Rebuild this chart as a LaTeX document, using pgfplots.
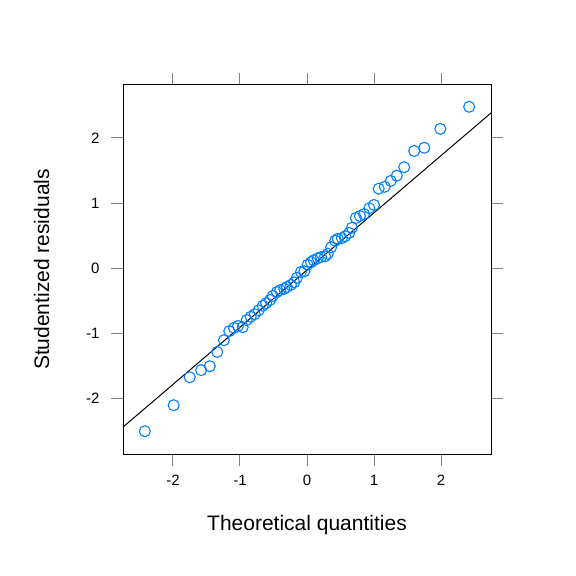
\documentclass[border=0pt]{standalone}
\usepackage{pgfplots}
\pgfplotsset{compat=1.18}
\usepackage{fontspec}
\setmainfont{Liberation Sans}
\definecolor{lat}{HTML}{0080FF}
\begin{document}
\begin{tikzpicture}
\path[use as bounding box] (-123bp,-122bp) rectangle (453bp,454bp);
\begin{axis}[at={(0,0)},anchor=south west,scale only axis,width=368bp,height=369bp,
xmin=-2.746,xmax=2.746,ymin=-2.86,ymax=2.815,
xtick={-2,-1,0,1,2},ytick={-2,-1,0,1,2},
tick align=outside,major tick length=12bp,
xticklabel pos=lower, yticklabel pos=left,
xtick pos=both, ytick pos=both,
/pgf/number format/assume math mode=true,
ticklabel style={font=\fontsize{15bp}{18bp}\selectfont},
xticklabel style={yshift=-6bp},
yticklabel style={xshift=-8bp},
major tick style={line width=1pt},
xlabel={Theoretical quantities},ylabel={Studentized residuals},
label style={font=\fontsize{21bp}{25bp}\selectfont},
xlabel style={yshift=-22bp},ylabel style={yshift=30bp},
axis line style={line width=1pt},
]
\addplot[black,line width=1pt] coordinates {(-2.746,-2.446) (2.746,2.385)};
\addplot[only marks,mark=o,mark size=5.5bp,color=lat,line width=1.1pt] coordinates {
(-2.42,-2.51)(-1.99,-2.11)(-1.75,-1.68)(-1.58,-1.57)(-1.45,-1.51)(-1.34,-1.29)(-1.24,-1.11)(-1.16,-0.97)(-1.09,-0.92)(-1.03,-0.89)(-0.96,-0.91)(-0.90,-0.80)(-0.84,-0.75)(-0.78,-0.71)(-0.72,-0.65)(-0.66,-0.58)(-0.61,-0.54)(-0.55,-0.49)(-0.51,-0.43)(-0.45,-0.37)(-0.40,-0.34)(-0.34,-0.32)(-0.30,-0.29)(-0.24,-0.26)(-0.19,-0.22)(-0.15,-0.15)(-0.09,-0.06)(-0.04,-0.05)(0.01,0.05)(0.06,0.09)(0.10,0.12)(0.16,0.15)(0.21,0.17)(0.27,0.18)(0.31,0.22)(0.36,0.32)(0.42,0.42)(0.46,0.45)(0.52,0.46)(0.57,0.49)(0.63,0.54)(0.67,0.62)(0.73,0.77)(0.79,0.80)(0.85,0.83)(0.93,0.92)(1.00,0.97)(1.07,1.22)(1.16,1.25)(1.25,1.34)(1.34,1.42)(1.45,1.55)(1.60,1.80)(1.75,1.85)(1.99,2.14)(2.42,2.48)};
\end{axis}
\end{tikzpicture}
\end{document}
